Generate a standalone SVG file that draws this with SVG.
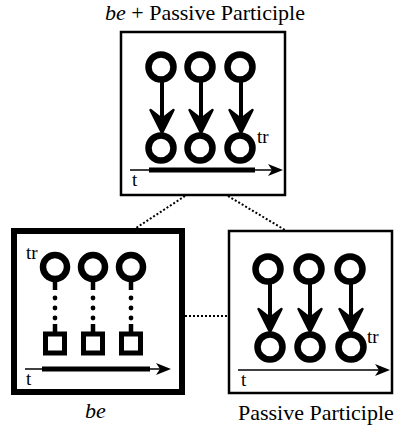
<svg xmlns="http://www.w3.org/2000/svg" width="397" height="426" viewBox="0 0 397 426">
<defs>
<style>
text{font-family:"Liberation Serif",Tinos,"Times New Roman",Times,serif;fill:#000}
.lbl{font-size:22px}
.sm{font-size:19px}
.it{font-style:italic}
.box{fill:#fff;stroke:#000;stroke-width:2.5}
.thick{fill:#fff;stroke:#000;stroke-width:6}
.c{fill:none;stroke:#000;stroke-width:6.5}
.sq{fill:#fff;stroke:#000;stroke-width:5}
.shaft{stroke:#000;stroke-width:4}
.axis{stroke:#000;stroke-width:1.5}
.axisb{stroke:#000;stroke-width:5}
.dot{stroke:#000;stroke-width:2;stroke-dasharray:2 2;fill:none}
.stub{stroke:#000;stroke-width:4.5}
</style>
<path id="ah" d="M0,0 L-11.5,-23 L0,-14 L11.5,-23 Z" fill="#000" stroke="#000" stroke-width="2.5" stroke-linejoin="round"/>
<path id="ta" d="M0,0 L-15,-6 L-11,0 L-15,6 Z" fill="#000"/>
</defs>
<text class="lbl" x="105" y="20"><tspan class="it">be</tspan> + Passive Participle</text>
<g id="connectors">
<line class="dot" x1="185" y1="196" x2="136" y2="228"/>
<line class="dot" x1="228" y1="196" x2="285" y2="230"/>
<line class="dot" x1="185" y1="316" x2="229" y2="316"/>
</g>
<g id="node-top">
<rect class="box" x="121" y="32" width="164" height="163"/>
<circle class="c" cx="161" cy="67" r="12.5"/>
<circle class="c" cx="200" cy="67" r="12.5"/>
<circle class="c" cx="240" cy="67" r="12.5"/>
<circle class="c" cx="161" cy="148" r="12.5"/>
<circle class="c" cx="200" cy="148" r="12.5"/>
<circle class="c" cx="240" cy="148" r="12.5"/>
<line class="shaft" x1="162" y1="82" x2="162" y2="122"/>
<line class="shaft" x1="201" y1="82" x2="201" y2="122"/>
<line class="shaft" x1="241" y1="82" x2="241" y2="122"/>
<use href="#ah" x="162" y="133"/>
<use href="#ah" x="201" y="133"/>
<use href="#ah" x="241" y="133"/>
<line class="axis" x1="130" y1="170" x2="275" y2="170"/>
<line class="axisb" x1="149" y1="170" x2="255" y2="170"/>
<use href="#ta" x="283" y="170"/>
<text class="sm" x="132" y="186">t</text>
<text class="sm" x="257" y="143">tr</text>
</g>
<g id="node-be">
<rect class="thick" x="14" y="231" width="168" height="161"/>
<circle class="c" cx="55" cy="267" r="12"/>
<circle class="c" cx="93" cy="267" r="12"/>
<circle class="c" cx="131" cy="267" r="12"/>
<g class="stub">
<line x1="55" y1="281" x2="55" y2="290"/><line x1="93" y1="281" x2="93" y2="290"/><line x1="131" y1="281" x2="131" y2="290"/>
<line x1="55" y1="324" x2="55" y2="333"/><line x1="93" y1="324" x2="93" y2="333"/><line x1="131" y1="324" x2="131" y2="333"/>
</g>
<g fill="#000">
<circle cx="55" cy="298" r="2.4"/><circle cx="55" cy="308" r="2.4"/><circle cx="55" cy="318" r="2.4"/>
<circle cx="93" cy="298" r="2.4"/><circle cx="93" cy="308" r="2.4"/><circle cx="93" cy="318" r="2.4"/>
<circle cx="131" cy="298" r="2.4"/><circle cx="131" cy="308" r="2.4"/><circle cx="131" cy="318" r="2.4"/>
</g>
<rect class="sq" x="45.5" y="334" width="19" height="19"/>
<rect class="sq" x="83.5" y="334" width="19" height="19"/>
<rect class="sq" x="121.5" y="334" width="19" height="19"/>
<line class="axis" x1="25" y1="369" x2="160" y2="369"/>
<line class="axisb" x1="42" y1="369" x2="150" y2="369"/>
<use href="#ta" x="171" y="369"/>
<text class="sm" x="26" y="385">t</text>
<text class="sm" x="26" y="259">tr</text>
</g>
<text class="lbl it" x="85" y="418">be</text>
<g id="node-passive">
<rect class="box" x="229" y="231" width="163" height="162"/>
<circle class="c" cx="268" cy="269" r="12.5"/>
<circle class="c" cx="309" cy="269" r="12.5"/>
<circle class="c" cx="350" cy="269" r="12.5"/>
<circle class="c" cx="270" cy="347" r="12.5"/>
<circle class="c" cx="310" cy="347" r="12.5"/>
<circle class="c" cx="351" cy="347" r="12.5"/>
<line class="shaft" x1="270" y1="284" x2="270" y2="322"/>
<line class="shaft" x1="310" y1="284" x2="310" y2="322"/>
<line class="shaft" x1="351" y1="284" x2="351" y2="322"/>
<use href="#ah" x="270" y="332"/>
<use href="#ah" x="310" y="332"/>
<use href="#ah" x="351" y="332"/>
<line class="axis" x1="238" y1="370" x2="380" y2="370"/>
<use href="#ta" x="390" y="370"/>
<text class="sm" x="241" y="386">t</text>
<text class="sm" x="367" y="343">tr</text>
</g>
<text class="lbl" x="238" y="420">Passive Participle</text>
</svg>
